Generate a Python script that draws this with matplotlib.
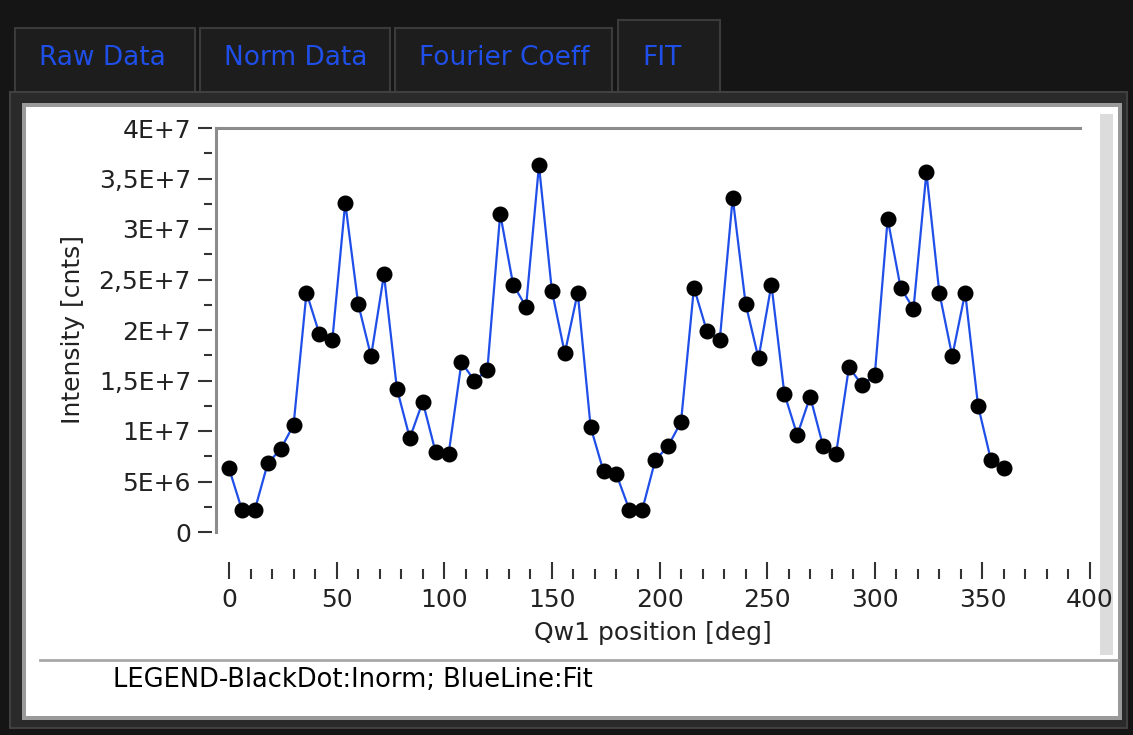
import numpy as np
from matplotlib import pyplot as plt
from matplotlib.patches import Rectangle
from matplotlib.lines import Line2D
from matplotlib.ticker import MultipleLocator, FuncFormatter

# Qw1 position [deg]
position = list(range(0, 361, 6))

# measured normalised intensity (black dots)
inorm = [6.3e6, 2.2e6, 2.2e6, 6.8e6, 8.2e6, 10.6e6, 23.7e6, 19.6e6, 19.0e6, 32.6e6,
         22.6e6, 17.4e6, 25.5e6, 14.2e6, 9.3e6, 12.9e6, 7.9e6, 7.7e6, 16.8e6, 15.0e6,
         16.0e6, 31.5e6, 24.5e6, 22.3e6, 36.3e6, 23.9e6, 17.7e6, 23.7e6, 10.4e6, 6.0e6,
         5.7e6, 2.2e6, 2.2e6, 7.1e6, 8.5e6, 10.9e6, 24.2e6, 19.9e6, 19.0e6, 33.1e6,
         22.6e6, 17.2e6, 24.5e6, 13.7e6, 9.6e6, 13.4e6, 8.5e6, 7.7e6, 16.3e6, 14.6e6,
         15.5e6, 31.0e6, 24.2e6, 22.1e6, 35.6e6, 23.7e6, 17.4e6, 23.7e6, 12.5e6, 7.1e6,
         6.3e6]

# fit curve (blue line) - passes through the dots
fit = list(inorm)

tabs = ["Raw Data", "Norm Data", "Fourier Coeff", "FIT"]

W, H = 1133, 735
fig = plt.figure(figsize=(W / 100, H / 100), dpi=100, facecolor="#151515")
FONT = ["DejaVu Sans"]
FS = 18


def box(x0, y0, x1, y1, **kw):
    # rectangle given in pixel coords (top-left origin)
    r = Rectangle((x0 / W, 1 - y1 / H), (x1 - x0) / W, (y1 - y0) / H,
                  transform=fig.transFigure, zorder=-5, **kw)
    fig.patches.append(r)


def hline(x0, x1, y, **kw):
    fig.lines.append(Line2D([x0 / W, x1 / W], [1 - y / H, 1 - y / H],
                            transform=fig.transFigure, zorder=-4, **kw))


# tabs
tab_box = [(15, 195, 28), (200, 390, 28), (395, 612, 28), (618, 720, 20)]
for (x0, x1, top), name in zip(tab_box, tabs):
    box(x0, top, x1, 94, facecolor="#1d1d1d", edgecolor="#3b3b3b", lw=1.5)
    fig.text((x0 + 24) / W, 1 - 58 / H, name, color="#1f4fe8", fontsize=19,
             family=FONT, va="center", ha="left")

# panel frame
box(10, 92, 1127, 728, facecolor="#2a2a2a", edgecolor="#404040", lw=1.5)
box(22, 103, 1122, 720, facecolor="#9a9a9a", edgecolor="none")
box(26, 107, 1118, 716, facecolor="white", edgecolor="none")
box(1100, 114, 1113, 655, facecolor="#dcdcdc", edgecolor="none")
hline(40, 1118, 660, color="#a8a8a8", lw=2)

fig.text(113 / W, 1 - 680 / H, "LEGEND-BlackDot:Inorm; BlueLine:Fit", fontsize=18.5,
         family=FONT, color="black", va="center", ha="left")

# plot area
ax = fig.add_axes([216 / W, 1 - 532 / H, (1090 - 216) / W, (532 - 128) / H])
ax.set_facecolor("white")
ax.plot(position, fit, color="#1f4fe8", lw=1.6, zorder=2)
ax.plot(position, inorm, "o", color="black", ms=10.5, zorder=3)

ax.set_xlim(-6.04, 400)
ax.set_ylim(0, 4e7)

for s in ["top", "right", "bottom", "left"]:
    ax.spines[s].set_visible(False)
ax.plot([0, 0], [0, 1], transform=ax.transAxes, color="#8c8c8c", lw=2.2,
        clip_on=False)
ax.plot([0, (1080 - 216) / (1090 - 216)], [1, 1], transform=ax.transAxes,
        color="#8c8c8c", lw=2.2, clip_on=False)

ax.yaxis.set_major_locator(MultipleLocator(5e6))
ax.yaxis.set_minor_locator(MultipleLocator(2.5e6))


def yfmt(v, pos):
    if v <= 0:
        return "0"
    e = int(np.floor(np.log10(v)))
    m = v / 10 ** e
    txt = ("%g" % m).replace(".", ",")
    return "%sE+%d" % (txt, e)


ax.yaxis.set_major_formatter(FuncFormatter(yfmt))
ax.spines["left"].set_position(("outward", 3))
ax.tick_params(axis="y", which="major", length=10, width=1.5, color="#333333",
               labelsize=FS, pad=5)
ax.tick_params(axis="y", which="minor", length=6, width=1.5, color="#333333")

ax.xaxis.set_major_locator(MultipleLocator(50))
ax.xaxis.set_minor_locator(MultipleLocator(10))
ax.spines["bottom"].set_position(("outward", 34))
ax.tick_params(axis="x", which="major", direction="in", length=12, width=1.5,
               color="#333333", labelsize=FS, pad=6)
ax.tick_params(axis="x", which="minor", direction="in", length=7, width=1.5,
               color="#333333")

for lab in ax.get_xticklabels() + ax.get_yticklabels():
    lab.set_family(FONT)
    lab.set_color("#222222")

ax.set_xlabel("Qw1 position [deg]", fontsize=FS, family=FONT, labelpad=7,
              color="#222222")
ax.set_ylabel("Intensity [cnts]", fontsize=FS, family=FONT, labelpad=10,
              color="#222222")

fig.savefig("out.png", dpi=100, facecolor=fig.get_facecolor())
